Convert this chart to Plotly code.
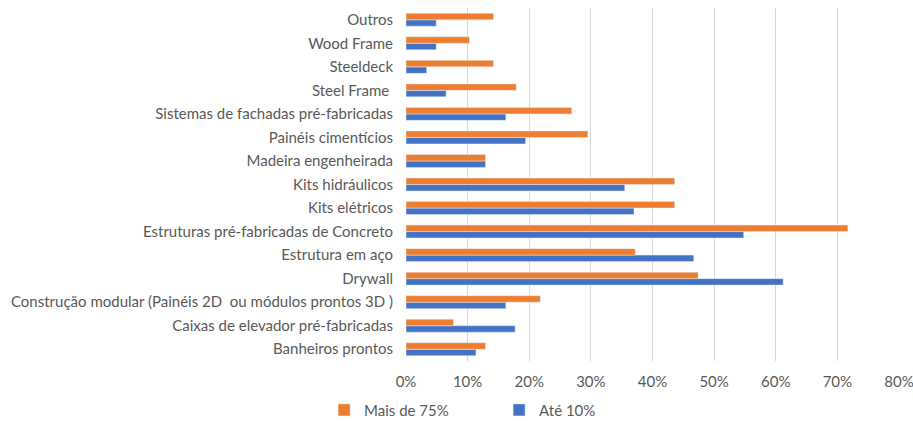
import plotly.graph_objects as go

categories = [
    "Banheiros prontos",
    "Caixas de elevador pré-fabricadas",
    "Construção modular (Painéis 2D  ou módulos prontos 3D )",
    "Drywall",
    "Estrutura em aço",
    "Estruturas pré-fabricadas de Concreto",
    "Kits elétricos",
    "Kits hidráulicos",
    "Madeira engenheirada",
    "Painéis cimentícios",
    "Sistemas de fachadas pré-fabricadas",
    "Steel Frame ",
    "Steeldeck",
    "Wood Frame",
    "Outros",
]

mais_de_75 = [0.129, 0.077, 0.218, 0.474, 0.372, 0.717, 0.436, 0.436,
              0.129, 0.295, 0.269, 0.179, 0.142, 0.103, 0.142]
ate_10 = [0.1135, 0.177, 0.162, 0.612, 0.467, 0.548, 0.370, 0.355,
          0.129, 0.194, 0.162, 0.065, 0.0335, 0.049, 0.049]

text_color = "#595959"

fig = go.Figure()

# blue first so the orange bar sits on top in each pair
fig.add_trace(go.Bar(
    y=categories, x=ate_10, orientation="h", name="Até 10%",
    marker=dict(color="#4472C4"), legendrank=2,
))
fig.add_trace(go.Bar(
    y=categories, x=mais_de_75, orientation="h", name="Mais de 75%",
    marker=dict(color="#ED7D31"), legendrank=1,
))

fig.update_layout(
    width=913, height=421,
    barmode="group", bargap=0.45, bargroupgap=0,
    plot_bgcolor="white", paper_bgcolor="white",
    font=dict(family="Lato, Open Sans, sans-serif", size=15, color=text_color),
    margin=dict(l=406, r=14, t=8, b=60),
    legend=dict(
        orientation="h", xref="container", yref="container",
        x=0.355, y=0.065, xanchor="left", yanchor="top",
        font=dict(size=15, color=text_color),
        entrywidth=130, entrywidthmode="pixels",
        itemwidth=30, bgcolor="rgba(0,0,0,0)",
    ),
    showlegend=True,
)

fig.update_xaxes(
    range=[0, 0.8], dtick=0.1, tickformat=".0%",
    showgrid=True, gridcolor="#d9d9d9", gridwidth=1,
    zeroline=False, showline=False, ticks="",
    ticklabelstandoff=10, ticklabeloverflow="allow",
    fixedrange=True, automargin=False,
)
fig.update_yaxes(
    showgrid=False, zeroline=False, showline=False, ticks="",
    ticklabelstandoff=12, fixedrange=True, automargin=False,
)

# drop the default body margin so the figure sits at the window's corner
fig.write_html(
    "out.html",
    config={"displayModeBar": False},
    post_script="document.body.style.margin='0';",
)
